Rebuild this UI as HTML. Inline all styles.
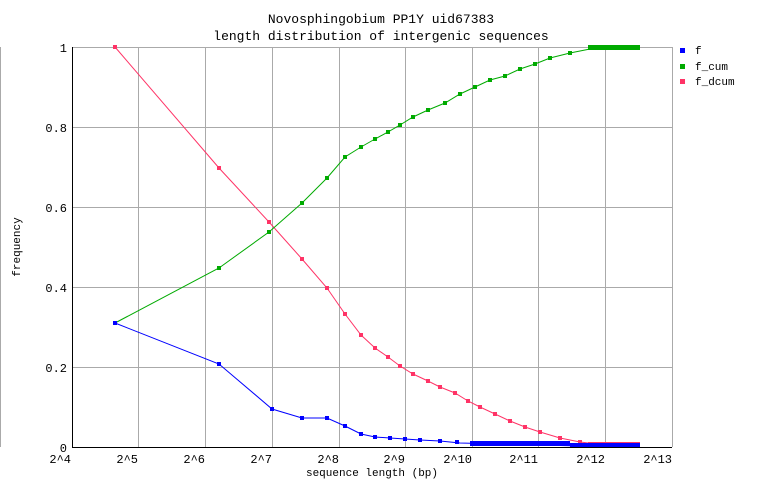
<!DOCTYPE html>
<html><head><style>body{margin:0;background:#fff}svg{display:block}</style></head><body>
<svg width="762" height="498" xmlns="http://www.w3.org/2000/svg" font-family="Liberation Mono, DejaVu Sans Mono, monospace" font-size="12">
<rect width="762" height="498" fill="#fff"/>
<line x1="0.5" y1="47" x2="0.5" y2="447" stroke="#aaa"/>
<g stroke="#aaa" stroke-width="1">
<line x1="72" y1="47.5" x2="672" y2="47.5"/><line x1="72" y1="127.5" x2="672" y2="127.5"/><line x1="72" y1="207.5" x2="672" y2="207.5"/><line x1="72" y1="287.5" x2="672" y2="287.5"/><line x1="72" y1="367.5" x2="672" y2="367.5"/>
<line x1="138.5" y1="47" x2="138.5" y2="447"/><line x1="205.5" y1="47" x2="205.5" y2="447"/><line x1="272.5" y1="47" x2="272.5" y2="447"/><line x1="339.5" y1="47" x2="339.5" y2="447"/><line x1="405.5" y1="47" x2="405.5" y2="447"/><line x1="472.5" y1="47" x2="472.5" y2="447"/><line x1="538.5" y1="47" x2="538.5" y2="447"/><line x1="605.5" y1="47" x2="605.5" y2="447"/><line x1="672.5" y1="47" x2="672.5" y2="447"/>
</g>
<line x1="72.5" y1="47" x2="72.5" y2="447" stroke="#000"/>
<line x1="72" y1="447.5" x2="672" y2="447.5" stroke="#000"/>
<g text-anchor="end" fill="#000">
<text x="67" y="52">1</text><text x="67" y="132">0.8</text><text x="67" y="212">0.6</text><text x="67" y="292">0.4</text><text x="67" y="372">0.2</text><text x="67" y="452">0</text>
<text x="71" y="463">2^4</text><text x="138" y="463">2^5</text><text x="205" y="463">2^6</text><text x="272" y="463">2^7</text><text x="339" y="463">2^8</text><text x="405" y="463">2^9</text><text x="472" y="463">2^10</text><text x="538" y="463">2^11</text><text x="605" y="463">2^12</text><text x="672" y="463">2^13</text>
</g>
<text x="381" y="23" text-anchor="middle" font-size="13">Novosphingobium PP1Y uid67383</text>
<text x="381" y="40" text-anchor="middle" font-size="13">length distribution of intergenic sequences</text>
<text x="372" y="476" text-anchor="middle" font-size="11">sequence length (bp)</text>
<text transform="translate(20,247) rotate(-90)" text-anchor="middle" font-size="11">frequency</text>
<g font-size="11">
<rect x="680" y="48" width="5" height="5" fill="#00f"/><text x="695" y="54">f</text>
<rect x="680" y="64" width="5" height="5" fill="#0a0"/><text x="695" y="70">f_cum</text>
<rect x="680" y="79" width="5" height="5" fill="#f36"/><text x="695" y="85">f_dcum</text>
</g>
<polyline fill="none" stroke="#f36" points="115,47 219,168 269,222 302,259 327,288 345,314 361,335 375,348 388,357 400,366 413,374 428,381 440,387 455,393 468,401 480,407 495,414 510,421 525,427 540,432 560,438 580,442 605,445 640,445"/>
<polyline fill="none" stroke="#0a0" points="115,323 219,268 269,232 302,203 327,178 345,157 361,147 375,139 388,132 400,125 413,117 428,110 445,103 460,94 475,87 490,80 505,76 520,69 535,64 550,58 570,53 590,49 605,47 640,47"/>
<polyline fill="none" stroke="#00f" points="115,323 219,364 272,409 302,418 327,418 345,426 361,434 375,437 390,438 405,439 420,440 440,441 460,443 500,444 540,445 580,446 640,446"/>
<g fill="#f36"><rect x="113" y="45" width="4" height="4"/><rect x="217" y="166" width="4" height="4"/><rect x="267" y="220" width="4" height="4"/><rect x="300" y="257" width="4" height="4"/><rect x="325" y="286" width="4" height="4"/><rect x="343" y="312" width="4" height="4"/><rect x="359" y="333" width="4" height="4"/><rect x="373" y="346" width="4" height="4"/><rect x="386" y="355" width="4" height="4"/><rect x="398" y="364" width="4" height="4"/><rect x="411" y="372" width="4" height="4"/><rect x="426" y="379" width="4" height="4"/><rect x="438" y="385" width="4" height="4"/><rect x="453" y="391" width="4" height="4"/><rect x="466" y="399" width="4" height="4"/><rect x="478" y="405" width="4" height="4"/><rect x="493" y="412" width="4" height="4"/><rect x="508" y="419" width="4" height="4"/><rect x="523" y="425" width="4" height="4"/><rect x="538" y="430" width="4" height="4"/><rect x="558" y="436" width="4" height="4"/><rect x="578" y="440" width="4" height="4"/><rect x="588" y="442" width="52" height="5"/></g>
<g fill="#0a0"><rect x="113" y="321" width="4" height="4"/><rect x="217" y="266" width="4" height="4"/><rect x="267" y="230" width="4" height="4"/><rect x="300" y="201" width="4" height="4"/><rect x="325" y="176" width="4" height="4"/><rect x="343" y="155" width="4" height="4"/><rect x="359" y="145" width="4" height="4"/><rect x="373" y="137" width="4" height="4"/><rect x="386" y="130" width="4" height="4"/><rect x="398" y="123" width="4" height="4"/><rect x="411" y="115" width="4" height="4"/><rect x="426" y="108" width="4" height="4"/><rect x="443" y="101" width="4" height="4"/><rect x="458" y="92" width="4" height="4"/><rect x="473" y="85" width="4" height="4"/><rect x="488" y="78" width="4" height="4"/><rect x="503" y="74" width="4" height="4"/><rect x="518" y="67" width="4" height="4"/><rect x="533" y="62" width="4" height="4"/><rect x="548" y="56" width="4" height="4"/><rect x="568" y="51" width="4" height="4"/><rect x="588" y="45" width="52" height="5"/></g>
<g fill="#00f"><rect x="113" y="321" width="4" height="4"/><rect x="217" y="362" width="4" height="4"/><rect x="270" y="407" width="4" height="4"/><rect x="300" y="416" width="4" height="4"/><rect x="325" y="416" width="4" height="4"/><rect x="343" y="424" width="4" height="4"/><rect x="359" y="432" width="4" height="4"/><rect x="373" y="435" width="4" height="4"/><rect x="388" y="436" width="4" height="4"/><rect x="403" y="437" width="4" height="4"/><rect x="418" y="438" width="4" height="4"/><rect x="438" y="439" width="4" height="4"/><rect x="455" y="440" width="4" height="4"/><rect x="470" y="441" width="100" height="5"/><rect x="570" y="443" width="70" height="4"/></g>
</svg>
</body></html>
